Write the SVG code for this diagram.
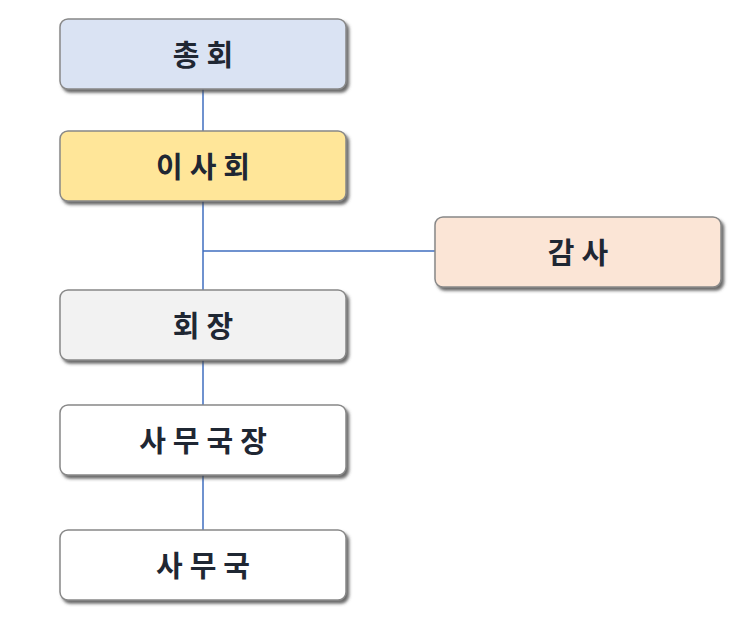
<svg xmlns="http://www.w3.org/2000/svg" width="739" height="621" viewBox="0 0 739 621">
<defs>
<filter id="sh" x="-10%" y="-20%" width="125%" height="150%">
<feDropShadow dx="2.5" dy="3" stdDeviation="1.6" flood-color="#444" flood-opacity="0.8"/>
</filter>
<style>
.box{stroke:#888;stroke-width:1.5;filter:url(#sh)}
.lbl{font-family:"Noto Sans CJK KR","Noto Sans",sans-serif;font-weight:bold;font-size:29px;fill:#1f2733;text-anchor:middle;dominant-baseline:central;letter-spacing:7px}
.con{stroke:#3f6ebf;stroke-width:1.5;fill:none}
</style>
</defs>
<rect width="739" height="621" fill="#fff"/>
<g id="connectors">
<line class="con" x1="203" y1="89" x2="203" y2="131"/>
<line class="con" x1="203" y1="201" x2="203" y2="290"/>
<line class="con" x1="203" y1="251" x2="435" y2="251"/>
<line class="con" x1="203" y1="360" x2="203" y2="405"/>
<line class="con" x1="203" y1="475" x2="203" y2="530"/>
</g>
<g id="n1"><rect class="box" x="60" y="19" width="286" height="70" rx="8" fill="#DAE3F3"/><text class="lbl" x="206.5" y="53">총회</text></g>
<g id="n2"><rect class="box" x="60" y="131" width="286" height="70" rx="8" fill="#FFE699"/><text class="lbl" x="206.5" y="165">이사회</text></g>
<g id="n3"><rect class="box" x="435" y="217" width="286" height="70" rx="8" fill="#FBE5D6"/><text class="lbl" x="581.5" y="251">감사</text></g>
<g id="n4"><rect class="box" x="60" y="290" width="286" height="70" rx="8" fill="#F2F2F2"/><text class="lbl" x="206.5" y="324">회장</text></g>
<g id="n5"><rect class="box" x="60" y="405" width="286" height="70" rx="8" fill="#FFFFFF"/><text class="lbl" x="206.5" y="439">사무국장</text></g>
<g id="n6"><rect class="box" x="60" y="530" width="286" height="70" rx="8" fill="#FFFFFF"/><text class="lbl" x="206.5" y="564">사무국</text></g>
</svg>
